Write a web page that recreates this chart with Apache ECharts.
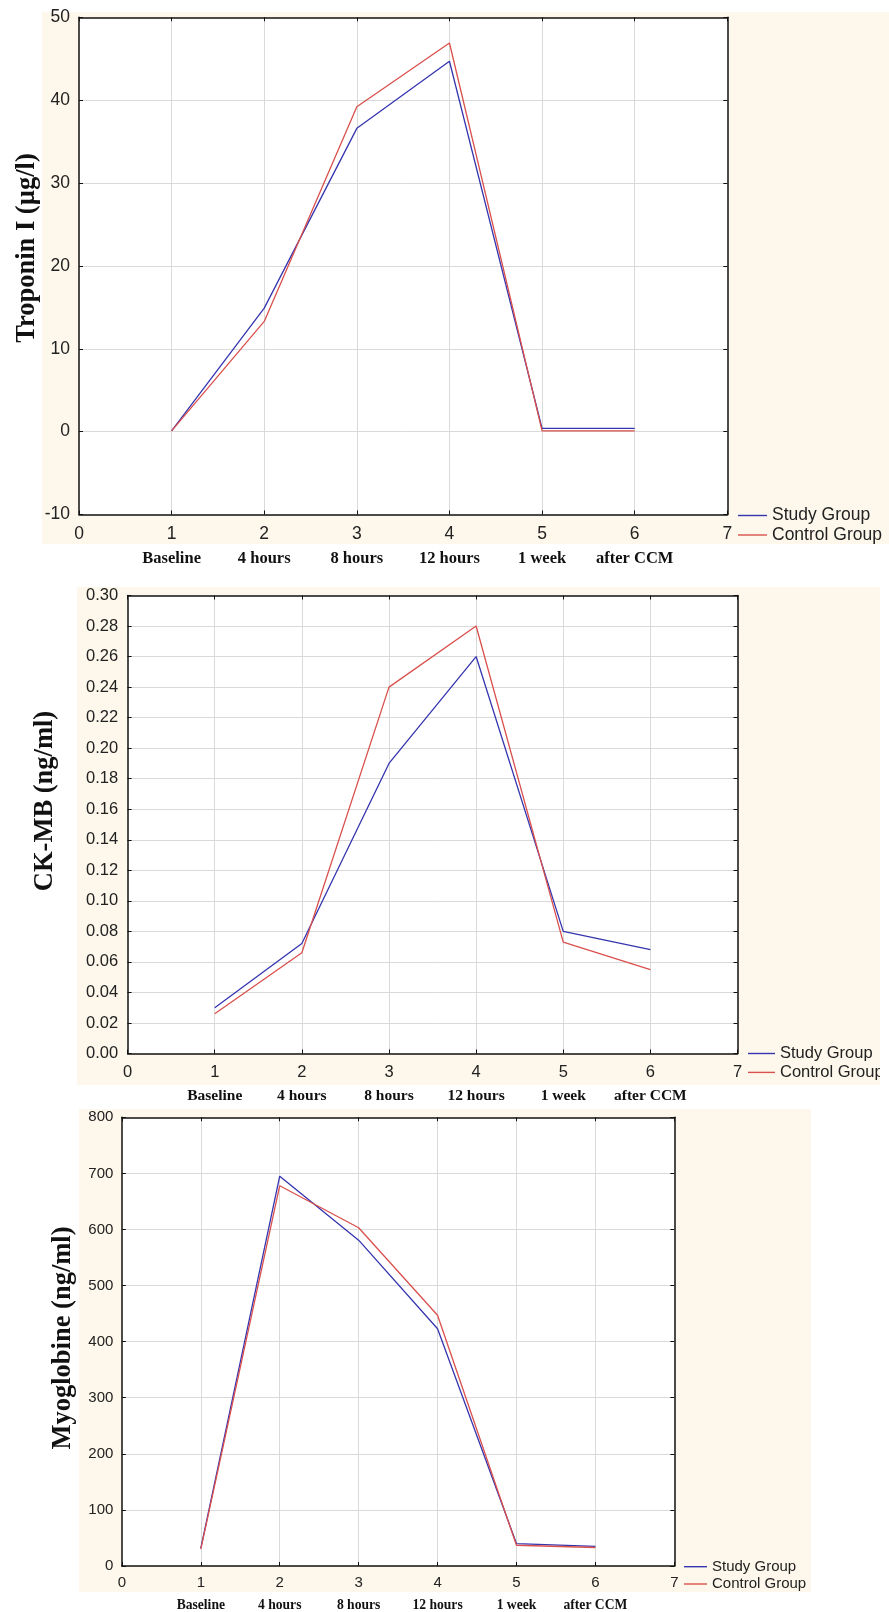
<!DOCTYPE html>
<html><head><meta charset="utf-8">
<script src="https://cdn.jsdelivr.net/npm/echarts@6/dist/echarts.min.js"></script>
<style>
html,body{margin:0;padding:0;background:#fff;width:889px;height:1612px;overflow:hidden;position:relative}
.p{position:absolute;left:0;overflow:hidden}
</style></head><body>
<div id="c1" class="p" style="top:0;width:889px;height:580px"></div>
<div id="c2" class="p" style="top:587px;width:880px;height:520px"></div>
<div id="c3" class="p" style="top:1109px;width:889px;height:503px"></div>
<script>
// ---- data ----
const categories = ['Baseline', '4 hours', '8 hours', '12 hours', '1 week', 'after CCM'];
const timePoints = [1, 2, 3, 4, 5, 6];
const seriesNames = ['Study Group', 'Control Group'];

const troponinStudy   = [0.1, 14.9, 36.6, 44.7, 0.4, 0.4];
const troponinControl = [0.1, 13.3, 39.2, 46.9, 0.1, 0.1];

const ckmbStudy   = [0.030, 0.072, 0.190, 0.260, 0.080, 0.068];
const ckmbControl = [0.026, 0.066, 0.240, 0.280, 0.073, 0.055];

const myoStudy   = [32, 695, 581, 423, 40, 35];
const myoControl = [30, 678, 603, 447, 37, 33];

const titles = ['Troponin I (µg/l)', 'CK-MB (ng/ml)', 'Myoglobine (ng/ml)'];

// ---- styling ----
const BLUE = '#3535b0', RED = '#d9504c', BEIGE = '#fdf8eb', INK = '#111';

function pairs(vals) { return timePoints.map((t, i) => [t, vals[i]]); }

function panel(id, o) {
  const chart = echarts.init(document.getElementById(id), null, {renderer: 'canvas'});
  const tick = {show: true, inside: true, length: 4, lineStyle: {color: INK, width: 1}};
  const line = {show: true, onZero: false, lineStyle: {color: INK, width: 1.5}};
  const split = {show: true, showMinLine: false, showMaxLine: false, lineStyle: {color: '#d9d9d9', width: 1}};
  const xBase = {type: 'value', min: 0, max: 7, interval: 1, gridIndex: 0};
  const yBase = {type: 'value', min: o.ymin, max: o.ymax, interval: o.yint, gridIndex: 0};
  chart.setOption({
    animation: false,
    grid: {left: o.gl, top: o.gt, width: o.gw, height: o.gh, show: true, backgroundColor: '#fff',
           borderWidth: 0},
    xAxis: [
      Object.assign({}, xBase, {position: 'bottom', axisLine: line, axisTick: tick, splitLine: split,
        axisLabel: {margin: o.xm, fontSize: o.tf, fontFamily: 'Liberation Sans', color: '#222'}}),
      Object.assign({}, xBase, {position: 'bottom', axisLine: {show: false}, axisTick: {show: false}, splitLine: {show: false},
        axisLabel: {margin: o.cm, fontSize: o.cf, fontFamily: 'Liberation Serif', fontWeight: 'bold', color: INK,
          formatter: v => categories[v - 1] || ''}}),
      Object.assign({}, xBase, {position: 'top', axisLine: line, axisTick: tick, splitLine: {show: false}, axisLabel: {show: false}})
    ],
    yAxis: [
      Object.assign({}, yBase, {position: 'left', axisLine: line, axisTick: tick, splitLine: split,
        axisLabel: {margin: o.ym, fontSize: o.tf, fontFamily: 'Liberation Sans', color: '#222',
          formatter: o.yfmt}}),
      Object.assign({}, yBase, {position: 'right', axisLine: line, axisTick: tick, splitLine: {show: false}, axisLabel: {show: false}})
    ],
    legend: {orient: 'vertical', left: o.lx, top: o.ly, icon: 'rect', itemWidth: o.iw, itemHeight: 1.4, itemGap: o.ig,
      padding: 0, textStyle: {fontFamily: 'Liberation Sans', fontSize: o.lf, lineHeight: o.lf, color: '#222'},
      data: seriesNames},
    graphic: [
      {type: 'rect', z: -10, silent: true, shape: o.bg, style: {fill: BEIGE}},
      {type: 'text', x: o.tx, y: o.ty, rotation: Math.PI / 2, silent: true,
        style: {text: o.title, font: 'bold ' + o.tfs + 'px "Liberation Serif"', align: 'center', verticalAlign: 'middle', fill: INK}}
    ],
    series: [
      {type: 'line', name: seriesNames[0], data: pairs(o.s1), symbol: 'none', showSymbol: false, xAxisIndex: 0, yAxisIndex: 0,
        lineStyle: {color: BLUE, width: 1.3}, itemStyle: {color: BLUE}},
      {type: 'line', name: seriesNames[1], data: pairs(o.s2), symbol: 'none', showSymbol: false, xAxisIndex: 0, yAxisIndex: 0,
        lineStyle: {color: RED, width: 1.3}, itemStyle: {color: RED}}
    ]
  });
}

panel('c1', {gl: 79, gt: 17.3, gw: 648.3, gh: 497.2, ymin: -10, ymax: 50, yint: 10, yfmt: v => String(v),
  tf: 17.5, xm: 10.5, ym: 9, cm: 36, cf: 16.5, lx: 738, ly: 506.5, iw: 29, ig: 1.5, lf: 17.5,
  bg: {x: 42, y: 12, width: 847, height: 532}, title: titles[0], tx: 27, ty: 248, tfs: 26.5,
  s1: troponinStudy, s2: troponinControl});

panel('c2', {gl: 127.6, gt: 4, gw: 609.9, gh: 462.5, ymin: 0, ymax: 0.30, yint: 0.02, yfmt: v => v.toFixed(2),
  tf: 16.5, xm: 10, ym: 9.5, cm: 34, cf: 15.5, lx: 748, ly: 458, iw: 27, ig: 1.9, lf: 16.5,
  bg: {x: 77, y: 0, width: 803, height: 498}, title: titles[1], tx: 45, ty: 214, tfs: 26.5,
  s1: ckmbStudy, s2: ckmbControl});

panel('c3', {gl: 121.9, gt: 8.3, gw: 552.4, gh: 450.4, ymin: 0, ymax: 800, yint: 100, yfmt: v => String(v),
  tf: 15, xm: 9.8, ym: 8.5, cm: 32, cf: 13.6, lx: 684, ly: 450.2, iw: 23, ig: 2.3, lf: 15,
  bg: {x: 79, y: 0, width: 732, height: 483}, title: titles[2], tx: 63, ty: 229, tfs: 26.5,
  s1: myoStudy, s2: myoControl});
</script>
</body></html>
